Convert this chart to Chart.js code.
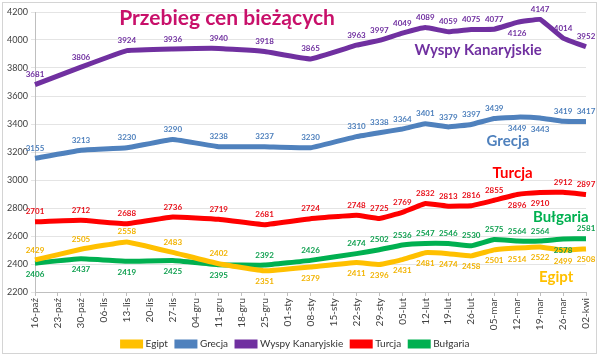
<!DOCTYPE html>
<html>
<head>
<meta charset="utf-8">
<script src="https://cdn.jsdelivr.net/npm/chart.js@4"></script>
<style>
  html, body { margin: 0; padding: 0; background: #fff; }
  #wrap { width: 600px; height: 359px; }
</style>
</head>
<body>
<div id="wrap"><canvas id="c" width="600" height="359"></canvas></div>
<script>
const weeks = ['16-paź','23-paź','30-paź','06-lis','13-lis','20-lis','27-lis','04-gru','11-gru','18-gru',
  '25-gru','01-sty','08-sty','15-sty','22-sty','29-sty','05-lut','12-lut','19-lut','26-lut',
  '05-mar','12-mar','19-mar','26-mar','02-kwi'];

// weeks in which prices were recorded
const sampleDates = ['16-paź','30-paź','13-lis','27-lis','11-gru','25-gru','08-sty','22-sty','29-sty',
  '05-lut','12-lut','19-lut','26-lut','05-mar','12-mar','19-mar','26-mar','02-kwi'];

const egipt    = [2429, 2505, 2558, 2483, 2402, 2351, 2379, 2411, 2396, 2431, 2481, 2474, 2458, 2501, 2514, 2522, 2499, 2508];
const grecja   = [3155, 3213, 3230, 3290, 3238, 3237, 3230, 3310, 3338, 3364, 3401, 3379, 3397, 3439, 3449, 3443, 3419, 3417];
const wyspy    = [3681, 3806, 3924, 3936, 3940, 3918, 3865, 3963, 3997, 4049, 4089, 4059, 4075, 4077, 4126, 4147, 4014, 3952];
const turcja   = [2701, 2712, 2688, 2736, 2719, 2681, 2724, 2748, 2725, 2769, 2832, 2813, 2816, 2855, 2896, 2910, 2912, 2897];
const bulgaria = [2406, 2437, 2419, 2425, 2395, 2392, 2426, 2474, 2502, 2536, 2547, 2546, 2530, 2575, 2564, 2564, 2578, 2581];

const seriesNames = ['Egipt', 'Grecja', 'Wyspy Kanaryjskie', 'Turcja', 'Bułgaria'];
const colors = ['#FFC000', '#4F81BD', '#7030A0', '#FF0000', '#00B050'];
const labelColors = ['#F2B300', '#4F81BD', '#7030A0', '#E8101A', '#10A050'];
// a = label above point, b = below
const labelSides = [
  'aaaaabbbbbbbbbbbbb',
  'aaaaaaaaaaaaaabbaa',
  'aaaaaaaaaaaaaabaaa',
  'aaaaaaaaaaaaaabbaa',
  'bbbbbaaaaaaaaaaaba'
];
// where the series names sit inside the plot: [week index, price]
const namePos = [[22.7, 2307], [20.6, 3279], [19.3, 3930], [20.8, 3050], [22.9, 2736]];

const allSeries = [egipt, grecja, wyspy, turcja, bulgaria];

const pointLabels = {
  id: 'pointLabels',
  afterDatasetsDraw(chart) {
    const ctx = chart.ctx;
    ctx.save();
    ctx.font = 'bold 8px Lato';
    ctx.textAlign = 'center';
    ctx.textBaseline = 'middle';
    chart.data.datasets.forEach((ds, di) => {
      const meta = chart.getDatasetMeta(di);
      ctx.fillStyle = labelColors[di];
      meta.data.forEach((pt, i) => {
        const off = labelSides[di][i] === 'b' ? 11 : -10;
        ctx.fillText(String(allSeries[di][i]), pt.x, pt.y + off);
      });
    });
    // series names
    const xs = chart.scales.x, ys = chart.scales.y;
    ctx.font = 'bold 15px Lato';
    seriesNames.forEach((n, di) => {
      ctx.fillStyle = colors[di];
      ctx.fillText(n, xs.getPixelForValue(namePos[di][0]), ys.getPixelForValue(namePos[di][1]));
    });
    // title
    ctx.font = 'bold 21px Lato';
    ctx.fillStyle = '#C8106A';
    ctx.fillText('Przebieg cen bieżących', 227, 18);
    ctx.restore();
  },
  beforeDraw(chart) {
    const ctx = chart.ctx;
    ctx.save();
    ctx.strokeStyle = '#d4d4d4';
    ctx.lineWidth = 1;
    ctx.strokeRect(2.5, 2.5, 594, 351);
    ctx.restore();
  }
};

new Chart(document.getElementById('c'), {
  type: 'line',
  data: {
    labels: weeks,
    datasets: allSeries.map((vals, di) => ({
      label: seriesNames[di],
      data: vals.map((v, i) => ({ x: sampleDates[i], y: v })),
      borderColor: colors[di],
      backgroundColor: colors[di],
      borderWidth: 5,
      pointRadius: 0,
      tension: 0.08,
      spanGaps: true
    }))
  },
  options: {
    responsive: false,
    animation: false,
    layout: { padding: { top: 12, right: 12, left: 4, bottom: 0 } },
    plugins: {
      legend: {
        position: 'bottom',
        labels: {
          boxWidth: 18,
          boxHeight: 4,
          padding: 9,
          color: '#333',
          font: { family: 'Lato', size: 10 }
        }
      },
      tooltip: { enabled: false }
    },
    scales: {
      x: {
        offset: false,
        afterFit(s) { s.height = 38; },
        grid: { drawOnChartArea: false, tickLength: 4, color: '#bfbfbf' },
        border: { color: '#bfbfbf' },
        ticks: {
          minRotation: 90, maxRotation: 90, autoSkip: false,
          color: '#404040', font: { family: 'Lato', size: 10 }, padding: 2
        }
      },
      y: {
        min: 2200, max: 4200,
        afterFit(s) { s.width = 31; },
        grid: { color: '#e4e4e4', tickLength: 4 },
        border: { color: '#bfbfbf' },
        ticks: {
          stepSize: 200, color: '#404040', font: { family: 'Lato', size: 9 }, padding: 3,
          callback: v => String(v)
        }
      }
    }
  },
  plugins: [pointLabels]
});
</script>
</body>
</html>
